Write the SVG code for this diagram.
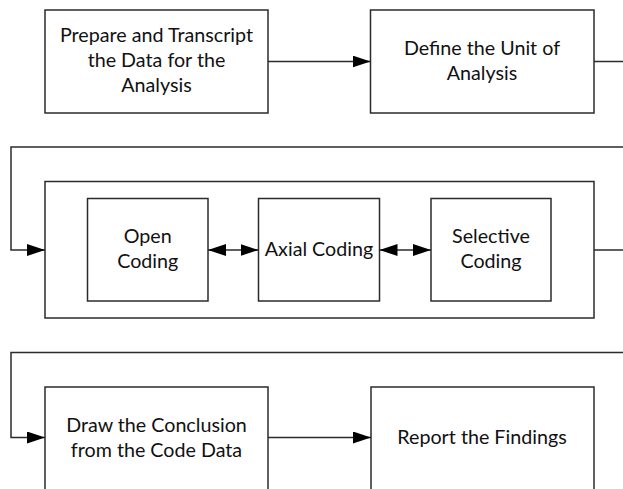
<svg xmlns="http://www.w3.org/2000/svg" width="623" height="489" viewBox="0 0 623 489">
<defs>
<style>
.box{fill:#fff;stroke:#2b2b2b;stroke-width:1.5}
.con{fill:none;stroke:#2b2b2b;stroke-width:1.5}
.t{font-family:Lato,"Liberation Sans",sans-serif;font-size:19.7px;fill:#111;text-anchor:middle}
</style>
<marker id="ah" markerUnits="userSpaceOnUse" markerWidth="19" markerHeight="13" refX="18" refY="6" orient="auto-start-reverse" viewBox="0 0 19 13">
<path d="M0,0 L18,6 L0,12 z" fill="#000"/>
</marker>
</defs>
<rect width="623" height="489" fill="#fff"/>
<g id="prepare">
<rect class="box" x="45" y="10" width="223" height="103"/>
<text class="t" x="156.5" y="42">Prepare and Transcript</text>
<text class="t" x="156.5" y="67">the Data for the</text>
<text class="t" x="156.5" y="92">Analysis</text>
</g>
<g id="define">
<rect class="box" x="370.5" y="10" width="223.5" height="103"/>
<text class="t" x="482" y="54.5">Define the Unit of</text>
<text class="t" x="482" y="79.5">Analysis</text>
</g>
<g id="coding">
<rect class="box" x="45" y="181.5" width="549" height="136.5"/>
</g>
<g id="open">
<rect class="box" x="87.5" y="198.5" width="120.5" height="102.5"/>
<text class="t" x="147.75" y="243">Open</text>
<text class="t" x="147.75" y="268">Coding</text>
</g>
<g id="axial">
<rect class="box" x="258.5" y="198.5" width="121" height="102.5"/>
<text class="t" x="319" y="256">Axial Coding</text>
</g>
<g id="selective">
<rect class="box" x="431" y="198.5" width="120" height="102.5"/>
<text class="t" x="491" y="243">Selective</text>
<text class="t" x="491" y="268">Coding</text>
</g>
<g id="conclusion">
<rect class="box" x="45" y="387" width="223" height="120"/>
<text class="t" x="156.5" y="431.5">Draw the Conclusion</text>
<text class="t" x="156.5" y="456.5">from the Code Data</text>
</g>
<g id="report">
<rect class="box" x="371" y="387" width="223" height="120"/>
<text class="t" x="482" y="444">Report the Findings</text>
</g>
<g id="connectors">
<path class="con" d="M268,61.5 H370.5" marker-end="url(#ah)"/>
<path class="con" d="M594,61.5 H640 V147 H11 V250 H45" marker-end="url(#ah)"/>
<path class="con" d="M208,250 H258.5" marker-start="url(#ah)" marker-end="url(#ah)"/>
<path class="con" d="M379.5,250 H431" marker-start="url(#ah)" marker-end="url(#ah)"/>
<path class="con" d="M594,250 H640 V352.5 H11 V437.5 H45" marker-end="url(#ah)"/>
<path class="con" d="M268,437.5 H371" marker-end="url(#ah)"/>
</g>
</svg>
